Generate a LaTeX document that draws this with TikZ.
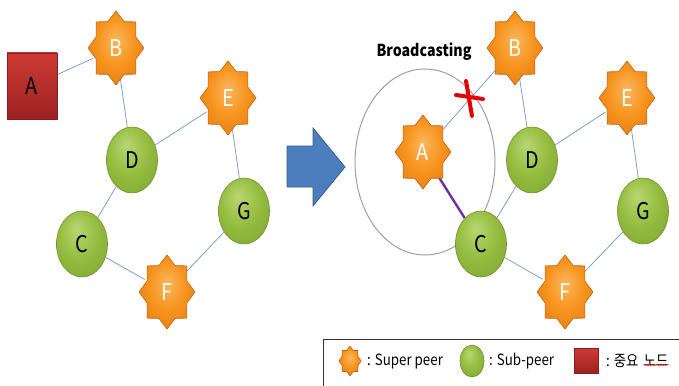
\documentclass[tikz,border=0pt]{standalone}
\usepackage{fontspec}
\setmainfont[FakeStretch=0.86]{Noto Sans CJK KR}
\usetikzlibrary{shapes.geometric,decorations.pathmorphing}

\definecolor{starL}{HTML}{FCB65E}
\definecolor{starM}{HTML}{F7951F}
\definecolor{starD}{HTML}{E0760F}
\definecolor{starB}{HTML}{C4610D}
\definecolor{grnL}{HTML}{B9D672}
\definecolor{grnM}{HTML}{97BE42}
\definecolor{grnD}{HTML}{79A02C}
\definecolor{grnB}{HTML}{6F9330}
\definecolor{keyT}{HTML}{CD3B36}
\definecolor{keyB}{HTML}{9C2121}
\definecolor{keyE}{HTML}{8A1E1E}
\definecolor{linkC}{HTML}{7F9FC6}
\definecolor{arrF}{HTML}{4C7EBD}
\definecolor{arrE}{HTML}{35608F}
\definecolor{purp}{HTML}{7030A0}

\pgfdeclareradialshading{starshade}{\pgfpoint{0bp}{6bp}}{%
  color(0bp)=(starL); color(16bp)=(starM); color(36bp)=(starD); color(50bp)=(starD)}
\pgfdeclareradialshading{grnshade}{\pgfpoint{-6bp}{12bp}}{%
  color(0bp)=(grnL); color(18bp)=(grnM); color(40bp)=(grnD); color(50bp)=(grnD)}

\pgfdeclarelayer{bg}
\pgfsetlayers{bg,main}

\tikzset{
  starfill/.style={shading=starshade, draw=starB, line width=0.6pt, line join=round},
  supertext/.style={ellipse, inner sep=0pt, text=white,
    font=\fontsize{23}{23}\selectfont},
  subpeer/.style={ellipse, shading=grnshade, draw=grnB, line width=0.6pt,
    minimum width=51pt, minimum height=66pt, inner sep=0pt,
    font=\fontsize{23}{23}\selectfont},
  keynode/.style={rectangle, top color=keyT, bottom color=keyB, draw=keyE,
    line width=0.6pt, minimum width=50pt, minimum height=66pt, inner sep=0pt,
    font=\fontsize{23}{23}\selectfont},
  link/.style={draw=linkC, line width=0.8pt},
  redx/.style={draw=red!90!black, line width=4pt, line cap=round},
  legtext/.style={anchor=west, inner sep=0pt, font=\fontsize{15.5}{17}\selectfont}
}

% eight-pointed star drawn around a named elliptic node
% #1 name, #2 position, #3 label, #4 scale
\newcommand\superpeer[4]{%
  \path[starfill, shift={#2}, xscale=28*#4, yscale=37*#4]
    (90:1) \foreach \k in {0,...,7} { -- ({112.5+45*\k}:0.77) -- ({135+45*\k}:1) } -- cycle;
  \node[supertext, minimum width=48*#4 pt, minimum height=62*#4 pt] (#1) at #2 {#3};
}

\begin{document}
\begin{tikzpicture}[x=1pt,y=-1pt]
\useasboundingbox (0,0) rectangle (679,385);
\clip (0,0) rectangle (679,385);

% ---- network before ----
\node[keynode] (A1) at (32,86) {A};
\superpeer{B1}{(116,48)}{B}{1}
\superpeer{E1}{(228,98)}{E}{1}
\superpeer{F1}{(167,292)}{F}{1}
\node[subpeer] (D1) at (132,160) {D};
\node[subpeer] (C1) at (82,244) {C};
\node[subpeer] (G1) at (244,211) {G};

\begin{pgfonlayer}{bg}
  \draw[link] (A1) -- (B1);
  \draw[link] (B1) -- (D1);
  \draw[link] (D1) -- (E1);
  \draw[link] (D1) -- (C1);
  \draw[link] (E1) -- (G1);
  \draw[link] (G1) -- (F1);
  \draw[link] (C1) -- (F1);
\end{pgfonlayer}

% ---- transition arrow ----
\draw[fill=arrF, draw=arrE, line width=0.8pt, line join=miter]
  (287,146) -- (313,146) -- (313,128) -- (345,167) -- (313,206) -- (313,187)
  -- (287,187) -- cycle;

% ---- network after ----
\superpeer{A2}{(423,152)}{A}{1}
\superpeer{B2}{(515,48)}{B}{1}
\superpeer{E2}{(627,98)}{E}{1}
\superpeer{F2}{(565,292)}{F}{1}
\node[subpeer] (D2) at (532,160) {D};
\node[subpeer] (C2) at (481,244) {C};
\node[subpeer] (G2) at (643,211) {G};

\node[font=\bfseries\fontsize{16.5}{18}\selectfont] (bc) at (424,52) {Broadcasting};

\begin{pgfonlayer}{bg}
  \draw[draw=gray!75, line width=1pt] (425,162) ellipse [x radius=70, y radius=93];
  \draw[link] (A2) -- (B2);
  \draw[link] (B2) -- (D2);
  \draw[link] (D2) -- (E2);
  \draw[link] (D2) -- (C2);
  \draw[link] (E2) -- (G2);
  \draw[link] (G2) -- (F2);
  \draw[link] (C2) -- (F2);
  \draw[draw=purp, line width=2.4pt] (A2) -- (C2);
\end{pgfonlayer}

% cut mark on the A-B link
\draw[redx] (456,95) -- (483,99);
\draw[redx] (466,81) -- (472,116);

% ---- legend ----
\draw[draw=black!80, line width=0.9pt] (323,339) rectangle (700,400);
\superpeer{LS}{(350,361)}{}{0.4}
\node[legtext] (LSt) at (367,361) {: Super peer};
\node[subpeer, minimum width=24pt, minimum height=32pt] (LP) at (472,361) {};
\node[legtext] (LPt) at (489,361) {: Sub-peer};
\node[keynode, minimum width=24pt, minimum height=25pt] (LK) at (586,361) {};
\node[legtext] (LKt) at (606,361) {: 중요};
\node[legtext, anchor=base west] (LKw) at ([xshift=5pt]LKt.base east) {노드};
\draw[red, line width=0.5pt, decorate,
  decoration={snake, amplitude=0.6pt, segment length=2.5pt}]
  ([yshift=2pt]LKw.south west) -- ([yshift=2pt]LKw.south east);
\end{tikzpicture}
\end{document}
